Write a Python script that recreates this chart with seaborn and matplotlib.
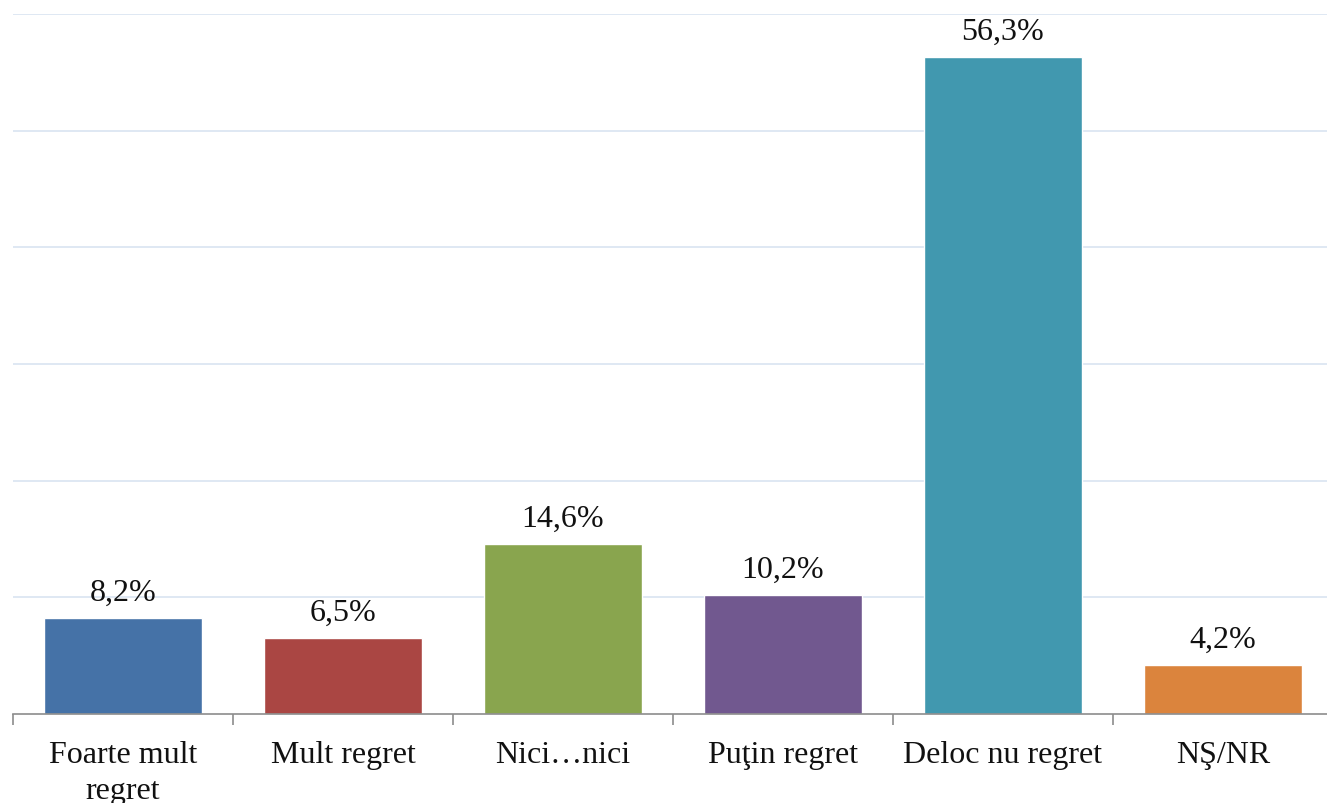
import matplotlib
matplotlib.use("Agg")
import matplotlib.pyplot as plt
import seaborn as sns
import pandas as pd
import numpy as np

categories = ["Foarte mult\nregret", "Mult regret", "Nici…nici", "Puţin regret", "Deloc nu regret", "NŞ/NR"]
values = [8.2, 6.5, 14.6, 10.2, 56.3, 4.2]
labels = ["8,2%", "6,5%", "14,6%", "10,2%", "56,3%", "4,2%"]
colors = ["#4572a7", "#aa4643", "#89a54e", "#71588f", "#4198af", "#db843d"]

sns.set_theme(style="white")
plt.rcParams["font.family"] = ["Liberation Serif", "DejaVu Serif"]

df = pd.DataFrame({"cat": categories, "val": values})

W, H = 1327, 804
fig = plt.figure(figsize=(W / 100, H / 100), dpi=100)
ax = fig.add_axes([13 / W, (H - 715) / H, 1320 / W, 700 / H])

sns.barplot(data=df, x="cat", y="val", hue="cat", palette=colors, legend=False,
            width=0.714, saturation=1, ax=ax)

ax.set_ylim(0, 60)
ax.set_xlim(-0.5, len(categories) - 0.5)
ax.set_yticks(np.arange(10, 61, 10))
ax.yaxis.grid(True, color="#dce6f2", linewidth=1.3)
ax.set_axisbelow(True)
ax.tick_params(axis="y", left=False, labelleft=False)

for s in ["top", "right", "left"]:
    ax.spines[s].set_visible(False)
ax.spines["bottom"].set_color("#8c8c8c")
ax.spines["bottom"].set_linewidth(1.2)

ax.set_xticks(range(len(categories)))
ax.set_xticklabels(categories, fontsize=23, color="#111111", linespacing=1.32)
ax.tick_params(axis="x", which="major", length=0, pad=19)
ax.set_xticks(np.arange(-0.5, len(categories), 1), minor=True)
ax.tick_params(axis="x", which="minor", length=8, width=1.2, color="#8c8c8c", bottom=True)
ax.xaxis.set_tick_params(which="minor", direction="out")
ax.set_xlabel("")
ax.set_ylabel("")

for patch, lab in zip(ax.patches, labels):
    x = patch.get_x() + patch.get_width() / 2
    y = patch.get_height()
    ax.annotate(lab, (x, y), xytext=(0, 8), textcoords="offset points",
                ha="center", va="bottom", fontsize=23, color="#111111")

fig.savefig("out.png", dpi=100, facecolor="white")
